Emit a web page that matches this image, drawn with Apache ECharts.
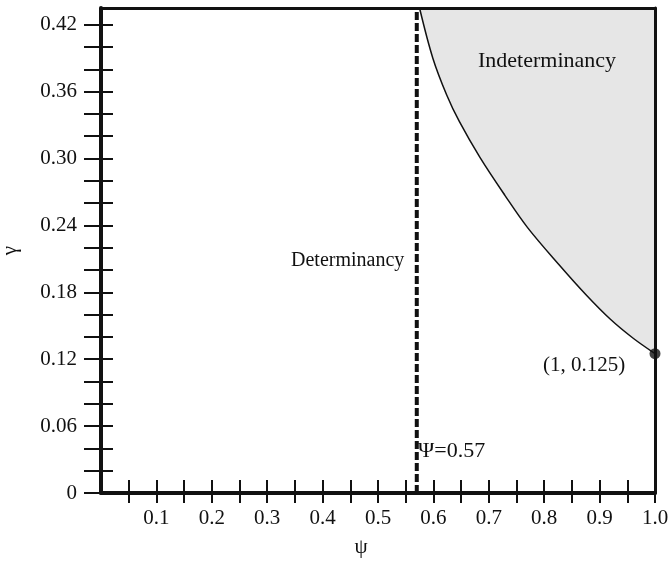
<!DOCTYPE html>
<html>
<head>
<meta charset="utf-8">
<script src="https://cdn.jsdelivr.net/npm/echarts@6/dist/echarts.min.js"></script>
<style>
  html, body { margin: 0; padding: 0; background: #fff; }
  #chart { width: 671px; height: 563px; }
</style>
</head>
<body>
<div id="chart"></div>
<script>
// boundary between determinacy and indeterminacy regions
const boundaryPsi = [0.575, 0.599, 0.624, 0.647, 0.684, 0.729, 0.77, 0.828, 0.875, 0.919, 0.96, 1.0]
const boundaryGamma = [0.435, 0.390, 0.357, 0.333, 0.301, 0.267, 0.238, 0.204, 0.178, 0.156, 0.139, 0.125]

const psiCut = 0.57
const endPoint = [1, 0.125]

const xRange = [0, 1]
const yRange = [0, 0.435]

const font = 'Liberation Serif, Times New Roman, serif'
const ink = '#111'

const isStep = (v, step) => Math.abs(v / step - Math.round(v / step)) < 1e-6

const xLabel = (v) => (v > 0 && isStep(v, 0.1) ? v.toFixed(1) : '')
const yLabel = (v) => {
  if (v === 0) return '0'
  return isStep(v, 0.06) ? v.toFixed(2) : ''
}

const chart = echarts.init(document.getElementById('chart'))

const baseX = {
  type: 'value',
  min: xRange[0],
  max: xRange[1],
  interval: 0.05,
  position: 'bottom',
  splitLine: { show: false },
}
const baseY = {
  type: 'value',
  min: yRange[0],
  max: yRange[1],
  interval: 0.02,
  position: 'left',
  splitLine: { show: false },
}
// plain frame edges (top / right), drawn above the shaded area
const frameAxis = (base, position, width) => ({
  ...base,
  position,
  z: 10,
  axisLine: { show: true, onZero: false, lineStyle: { color: ink, width } },
  axisTick: { show: false },
  axisLabel: { show: false },
})

chart.setOption({
  backgroundColor: '#fff',
  animation: false,
  grid: {
    left: 101,
    right: 16,
    top: 8,
    bottom: 70,
    outerBoundsMode: 'none',
    containLabel: false,
  },
  xAxis: [
    {
      ...baseX,
      name: 'ψ',
      nameLocation: 'middle',
      nameGap: 44,
      nameTextStyle: { fontFamily: font, fontSize: 21, color: ink, padding: [0, 34, 0, 0] },
      z: 10,
      axisLine: { show: true, onZero: false, lineStyle: { color: ink, width: 4 } },
      axisTick: { show: true, inside: false, length: 10, lineStyle: { color: ink, width: 2 } },
      axisLabel: {
        formatter: xLabel,
        fontFamily: font,
        fontSize: 21,
        color: ink,
        margin: 15,
        showMinLabel: false,
      },
    },
    {
      ...baseX,
      z: 10,
      axisLine: { show: false },
      axisTick: { show: true, inside: true, length: 13, lineStyle: { color: ink, width: 2 } },
      axisLabel: { show: false },
    },
    frameAxis(baseX, 'top', 3),
  ],
  yAxis: [
    {
      ...baseY,
      name: 'γ',
      nameLocation: 'middle',
      nameGap: 80,
      nameTextStyle: { fontFamily: font, fontSize: 21, color: ink },
      z: 10,
      axisLine: { show: true, onZero: false, lineStyle: { color: ink, width: 4 } },
      axisTick: { show: true, inside: false, length: 17, lineStyle: { color: ink, width: 2 } },
      axisLabel: {
        formatter: yLabel,
        fontFamily: font,
        fontSize: 21,
        color: ink,
        margin: 24,
        showMaxLabel: false,
      },
    },
    {
      ...baseY,
      z: 10,
      axisLine: { show: false },
      axisTick: { show: true, inside: true, length: 12, lineStyle: { color: ink, width: 2 } },
      axisLabel: { show: false },
    },
    frameAxis(baseY, 'right', 3),
  ],
  series: [
    {
      type: 'line',
      data: boundaryPsi.map((p, i) => [p, boundaryGamma[i]]),
      smooth: 0.35,
      symbol: 'none',
      lineStyle: { color: ink, width: 1.5 },
      areaStyle: { origin: 'end', color: '#e6e6e6', opacity: 1 },
      z: 2,
    },
    {
      type: 'line',
      data: [[psiCut, yRange[0]], [psiCut, yRange[1]]],
      symbol: 'none',
      lineStyle: { color: ink, width: 4, type: [8, 3] },
      z: 3,
    },
    {
      type: 'scatter',
      data: [endPoint],
      symbolSize: 11,
      itemStyle: { color: ink },
      clip: false,
      z: 12,
    },
  ],
  graphic: [
    {
      type: 'text',
      z: 100,
      left: 478, top: 50,
      style: { text: 'Indeterminancy', font: `22px ${font}`, fill: ink },
    },
    {
      type: 'text',
      z: 100,
      left: 291, top: 251,
      style: { text: 'Determinancy', font: `20px ${font}`, fill: ink },
    },
    {
      type: 'text',
      z: 100,
      left: 418, top: 440,
      style: { text: 'Ψ=0.57', font: `22px ${font}`, fill: ink },
    },
    {
      type: 'text',
      z: 100,
      left: 543, top: 355,
      style: { text: '(1, 0.125)', font: `21px ${font}`, fill: ink },
    },
  ],
})
</script>
</body>
</html>
